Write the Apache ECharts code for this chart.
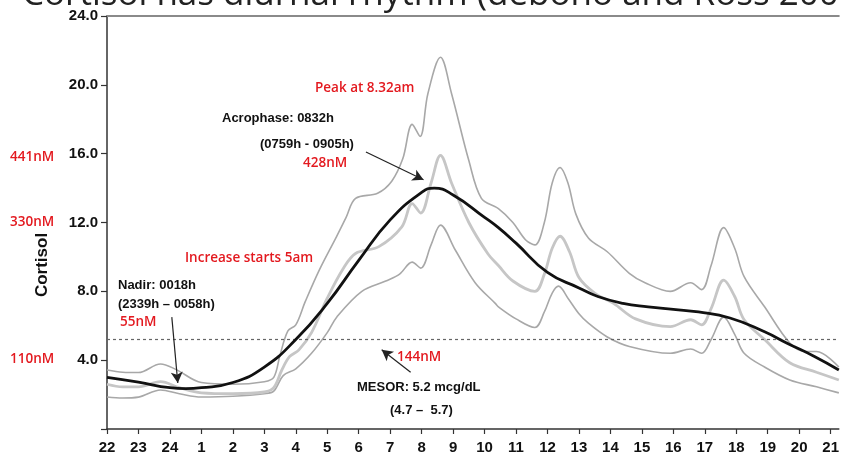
<!DOCTYPE html>
<html>
<head>
<meta charset="utf-8">
<script src="https://cdn.jsdelivr.net/npm/echarts@6/dist/echarts.min.js"></script>
<style>
  html, body { margin: 0; padding: 0; background: #fff; }
  #chart { width: 842px; height: 464px; }
</style>
</head>
<body>
<div id="chart"></div>
<script>
// x = hours after 22:00, y = cortisol (mcg/dL)
const hourLabels = ['22', '23', '24', '1', '2', '3', '4', '5', '6', '7', '8', '9', '10', '11', '12', '13', '14', '15', '16', '17', '18', '19', '20', '21'];
const yTicks = [4, 8, 12, 16, 20, 24];
const mesor = 5.2;

const upperBand = [
    [0, 3.43], [0.5, 3.3], [1.0, 3.28], [1.7, 3.78], [2.2, 3.45], [3.0, 2.7], [4.0, 2.6], [5.0, 2.75],
    [5.3, 3.0], [5.5, 4.3], [5.75, 5.7], [6.0, 6.05], [6.3, 7.4], [6.75, 9.25], [7.3, 11.2], [7.6, 12.3],
    [7.9, 13.4], [8.6, 13.7], [9.05, 14.4], [9.4, 15.7], [9.7, 17.7], [9.95, 17.0], [10.2, 19.5], [10.6, 21.6],
    [10.95, 19.5], [11.5, 15.6], [11.9, 13.4], [12.44, 12.8], [12.9, 12.0], [13.3, 11.0], [13.6, 10.7],
    [13.9, 12.0], [14.15, 14.3], [14.4, 15.2], [14.65, 14.3], [14.9, 12.5], [15.3, 11.1], [15.9, 10.3],
    [16.6, 9.05], [17.1, 8.5], [17.9, 8.0], [18.55, 8.5], [18.9, 8.1], [19.2, 9.5], [19.6, 11.7], [19.95, 10.5],
    [20.25, 8.85], [20.9, 7.1], [21.7, 5.0], [22.2, 4.5], [22.55, 4.5], [23.26, 3.6]
];

const meanCurve = [
    [0, 2.6], [0.5, 2.45], [1.0, 2.45], [1.7, 2.75], [2.3, 2.4], [3.0, 2.1], [4.0, 2.05], [5.0, 2.15],
    [5.3, 2.4], [5.55, 3.4], [5.8, 4.2], [6.1, 4.6], [6.5, 5.6], [7.0, 7.6], [7.5, 9.3], [7.9, 10.2],
    [8.64, 10.6], [9.37, 11.75], [9.7, 13.1], [9.97, 12.55], [10.3, 14.3], [10.6, 15.9], [10.95, 14.3],
    [11.5, 12.0], [12.1, 10.2], [12.44, 9.5], [12.9, 8.6], [13.6, 8.0], [13.9, 9.0], [14.15, 10.5],
    [14.4, 11.2], [14.7, 10.3], [15.0, 8.8], [15.5, 7.9], [16.1, 7.3], [16.8, 6.4], [17.9, 5.95],
    [18.55, 6.35], [18.9, 6.05], [19.2, 7.0], [19.6, 8.65], [19.95, 7.7], [20.25, 6.35], [20.9, 5.2],
    [21.7, 3.85], [22.55, 3.3], [23.26, 2.85]
];

const lowerBand = [
    [0, 1.86], [0.5, 1.8], [1.0, 1.85], [1.7, 2.27], [2.3, 2.05], [3.0, 1.86], [4.0, 1.9], [5.0, 2.05],
    [5.3, 2.2], [5.6, 3.1], [6.0, 3.5], [6.5, 4.4], [7.0, 5.6], [7.3, 6.5], [8.1, 8.0], [8.86, 8.6],
    [9.3, 9.0], [9.7, 9.7], [9.97, 9.35], [10.3, 10.7], [10.6, 11.85], [11.07, 10.4], [11.7, 8.5],
    [12.34, 7.3], [12.44, 7.1], [13.0, 6.4], [13.6, 5.9], [13.9, 6.8], [14.15, 7.9], [14.35, 8.3],
    [14.65, 7.6], [15.0, 6.7], [15.3, 6.15], [15.9, 5.35], [16.6, 4.8], [17.9, 4.4], [18.55, 4.65],
    [18.9, 4.4], [19.2, 5.2], [19.6, 6.5], [19.95, 5.5], [20.25, 4.4], [20.9, 3.6], [21.7, 2.85],
    [22.55, 2.45], [23.26, 2.1]
];

const cosinorFit = [
    [0, 3.0], [1, 2.72], [2, 2.4], [2.5, 2.35], [3, 2.4], [4, 2.7], [5, 3.6], [6, 5.2], [7, 7.3],
    [8, 9.8], [9, 12.15], [10, 13.75], [10.4, 14.0], [11, 13.6], [12, 12.3], [12.44, 11.7], [13, 10.8],
    [14, 9.1], [15, 8.2], [15.6, 7.7], [16.4, 7.3], [17.2, 7.1], [18, 6.95], [18.8, 6.8], [19.8, 6.45],
    [20.9, 5.65], [21.6, 5.0], [22.5, 4.2], [23.26, 3.43]
];

// annotation arrows, [from, to] in data units
const arrows = [
    [[8.23, 16.1], [10.06, 14.48]],
    [[2.06, 6.5], [2.25, 2.67]],
    [[9.65, 3.3], [8.73, 4.6]]
];

const axisFont = "'Liberation Sans Narrow', 'Liberation Sans', Arial, sans-serif";
const noteFont = "'Liberation Sans', Arial, sans-serif";
const redFont = "'Open Sans', 'Noto Sans', sans-serif";
const red = '#e3191f';

function note(text, x, y, color, family, weight, size) {
    return {
        type: 'text',
        x: x, y: y,
        style: {
            text: text,
            fill: color,
            font: (weight || 'bold') + ' ' + (size || 13) + 'px ' + family,
            textAlign: 'left',
            textVerticalAlign: 'middle'
        }
    };
}

function redNote(text, x, y) {
    return note(text, x, y, red, redFont, '600', 13.5);
}

const chart = echarts.init(document.getElementById('chart'));

chart.setOption({
    animation: false,
    grid: { left: 107, right: 0, top: 16, bottom: 35 },
    xAxis: [{
        type: 'value',
        min: 0,
        max: 23.26,
        interval: 1,
        splitLine: { show: false },
        axisLine: { lineStyle: { color: '#333', width: 1.5 } },
        axisTick: { length: 5, lineStyle: { color: '#333', width: 1.2 } },
        axisLabel: {
            showMaxLabel: false,
            margin: 11,
            color: '#111',
            fontSize: 15,
            fontWeight: 'bold',
            fontFamily: axisFont,
            formatter: v => Number.isInteger(v) ? hourLabels[v] : ''
        }
    }, {
        type: 'value',
        position: 'top',
        min: 0,
        max: 23.26,
        axisLine: { show: true, lineStyle: { color: '#8a8a8a', width: 2 } },
        axisTick: { show: false },
        axisLabel: { show: false },
        splitLine: { show: false }
    }],
    yAxis: {
        type: 'value',
        min: 0,
        max: 24,
        interval: 4,
        splitLine: { show: false },
        axisLine: { show: true, lineStyle: { color: '#333', width: 1.5 } },
        axisTick: { show: true, length: 6, lineStyle: { color: '#333', width: 1.2 } },
        axisLabel: {
            margin: 9,
            color: '#111',
            fontSize: 15,
            fontWeight: 'bold',
            fontFamily: axisFont,
            formatter: v => yTicks.includes(v) ? v.toFixed(1) : ''
        }
    },
    series: [
        {
            type: 'line', data: upperBand, symbol: 'none', smooth: 0.35,
            lineStyle: { color: '#a8a8a8', width: 1.6 }
        },
        {
            type: 'line', data: lowerBand, symbol: 'none', smooth: 0.35,
            lineStyle: { color: '#a8a8a8', width: 1.6 }
        },
        {
            type: 'line', data: meanCurve, symbol: 'none', smooth: 0.35,
            lineStyle: { color: '#c6c6c6', width: 2.8 }
        },
        {
            type: 'line', data: cosinorFit, symbol: 'none', smooth: 0.5, z: 5,
            lineStyle: { color: '#111', width: 2.8 },
            markLine: {
                silent: true,
                symbol: 'none',
                label: { show: false },
                lineStyle: { color: '#666', type: [3, 3], width: 1.2 },
                data: [{ yAxis: mesor }]
            }
        },
        {
            type: 'line', data: [], symbol: 'none',
            markLine: {
                silent: true,
                symbol: ['none', 'arrow'],
                symbolSize: [9, 11],
                label: { show: false },
                lineStyle: { color: '#222', type: 'solid', width: 1.2 },
                data: arrows.map(a => [{ coord: a[0] }, { coord: a[1] }])
            }
        }
    ],
    graphic: [
        note('Cortisol has diurnal rhythm (debono and Ross 2009)', 22, -5, '#222', "'Open Sans', sans-serif", 'normal', 35),
        {
            type: 'text', x: 42, y: 265, rotation: Math.PI / 2,
            style: {
                text: 'Cortisol', fill: '#111', font: 'bold 17px ' + noteFont,
                textAlign: 'center', textVerticalAlign: 'middle'
            }
        },
        redNote('441nM', 10, 157),
        redNote('330nM', 10, 222),
        redNote('110nM', 10, 359),
        redNote('Peak at 8.32am', 315, 88),
        note('Acrophase: 0832h', 222, 118, '#111', noteFont),
        note('(0759h - 0905h)', 260, 144, '#111', noteFont),
        redNote('428nM', 303, 163),
        redNote('Increase starts 5am', 185, 258),
        note('Nadir: 0018h', 118, 285, '#111', noteFont),
        note('(2339h \u2013 0058h)', 118, 304, '#111', noteFont),
        redNote('55nM', 120, 322),
        redNote('144nM', 397, 357),
        note('MESOR: 5.2 mcg/dL', 357, 387, '#111', noteFont),
        note('(4.7 \u2013  5.7)', 390, 410, '#111', noteFont)
    ]
});
</script>
</body>
</html>
